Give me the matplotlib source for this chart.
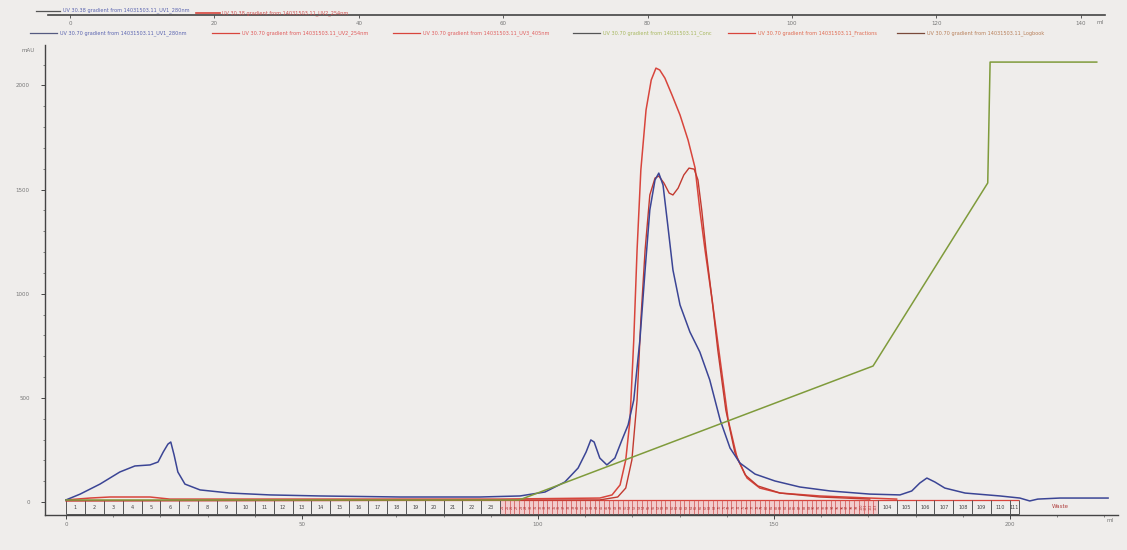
import matplotlib
matplotlib.use('Agg')
import matplotlib.pyplot as plt

# UV1 280 nm (blue)
uv1_ml = [0, 3.0, 7.2, 11.4, 14.6, 17.8, 19.5, 20.6, 21.6, 22.2, 22.9, 23.7, 25.2, 28.4, 34.7,
          43.2, 53.8, 70.8, 87.7, 96.2, 101.5, 105.7, 108.5, 110.2, 111.2, 111.9, 113.1, 114.6,
          116.3, 117.8, 119.1, 120.3, 121.6, 122.7, 123.7, 124.8, 125.6, 126.5, 127.5, 128.6,
          130.1, 132.2, 134.3, 136.4, 138.6, 140.7, 142.8, 146.0, 150.2, 155.5, 161.9, 170.3,
          176.7, 179.2, 180.9, 182.4, 184.1, 186.2, 190.5, 197.9, 202.1, 204.2, 205.9, 210.6, 220.8]
uv1_mau = [10, 38, 86, 144, 173, 178, 192, 240, 278, 288, 226, 144, 86, 58, 43,
           34, 29, 24, 24, 29, 48, 96, 163, 240, 298, 288, 211, 178,
           211, 298, 370, 490, 778, 1114, 1402, 1546, 1579, 1522, 1330, 1114,
           946, 816, 720, 586, 394, 259, 187, 134, 101, 72, 53, 38,
           34, 53, 91, 115, 96, 67, 43, 29, 19, 5, 14, 19, 19]

# UV2 (red, tall peak)
uv2_ml = [0, 5.1, 9.3, 17.8, 22.0, 49.6, 91.9, 113.1, 115.7, 117.4, 118.6, 119.5, 120.3, 121.0,
          121.8, 122.9, 124.0, 125.0, 125.8, 126.9, 128.4, 130.1, 131.8, 133.3, 134.3, 135.4,
          136.9, 138.6, 140.3, 142.2, 144.3, 147.0, 151.3, 159.7, 170.3, 176.0]
uv2_mau = [10, 19, 24, 24, 14, 14, 14, 19, 34, 82, 202, 394, 778, 1210,
           1594, 1882, 2026, 2083, 2074, 2035, 1954, 1858, 1738, 1603, 1402, 1210,
           970, 682, 394, 211, 115, 67, 43, 29, 19, 14]

# UV3 (red, double hump)
uv3_ml = [0, 113.1, 116.9, 118.6, 119.9, 121.0, 121.8, 122.7, 123.7, 124.8, 125.6, 126.7, 127.8,
          128.6, 129.7, 130.9, 132.0, 133.1, 133.9, 134.7, 135.6, 136.9, 138.1, 139.8, 141.7,
          143.9, 146.6, 151.3, 159.7, 170.3]
uv3_mau = [5, 10, 24, 67, 202, 490, 874, 1210, 1474, 1555, 1565, 1531, 1483,
           1474, 1507, 1570, 1603, 1598, 1546, 1402, 1210, 970, 730, 442, 240,
           130, 77, 43, 24, 14]

# Conc %B (green)
conc_ml = [0, 96.0, 171.0, 195.3, 195.8, 218.4]
conc_pct = [0, 0, 30.6, 72.4, 100, 100]

# fractions
frac_edges = list(range(0, 92, 4)) + list(range(92, 172)) + list(range(172, 201, 4)) + [202]
frac_labels = [str(i) for i in range(1, len(frac_edges))]

legend_texts = ['UV 30.70 gradient from 14031503.11_UV1_280nm',
                'UV 30.70 gradient from 14031503.11_UV2_254nm',
                'UV 30.70 gradient from 14031503.11_UV3_405nm',
                'UV 30.70 gradient from 14031503.11_Conc',
                'UV 30.70 gradient from 14031503.11_Fractions',
                'UV 30.70 gradient from 14031503.11_Logbook']
legend_line_colors = ['#555a80', '#d8453c', '#d8453c', '#555555', '#d8453c', '#7a4a3a']
legend_text_colors = ['#5a64b0', '#e05a5a', '#e06060', '#a8b860', '#e06a50', '#b8805a']

top_ticks = [0, 20, 40, 60, 80, 100, 120, 140]

bg = '#efedeb'
fig = plt.figure(figsize=(11.27, 5.5), dpi=100, facecolor=bg)
W, H = 1127, 550

ax = fig.add_axes([45 / W, 1 - 515 / H, (1118 - 45) / W, (515 - 45) / H], facecolor=bg)
ax.set_xlim(-4.45, 222.9)
ax.set_ylim(-62.4, 2194)

# fraction boxes
ax.axvspan(92, 172, ymin=(-58 + 62.4) / 2256.4, ymax=(10 + 62.4) / 2256.4, color='#f2cccc', lw=0)
ax.hlines(10, 0, 202, color='#d8453c', lw=0.9)
ax.hlines(-58, 0, 202, color='#555555', lw=0.7)
for i, e in enumerate(frac_edges):
    dense = 92 < e < 172
    ax.vlines(e, -58, 10, color='#d05050' if dense else '#555555', lw=0.5 if dense else 0.7)
for i in range(len(frac_edges) - 1):
    a, b = frac_edges[i], frac_edges[i + 1]
    mid = (a + b) / 2
    if b - a == 1:
        ax.text(mid, -24, frac_labels[i], fontsize=2.4, rotation=90, color='#b03030',
                ha='center', va='center')
    else:
        ax.text(mid, -24, frac_labels[i], fontsize=3.5, color='#444444', ha='center', va='center')
ax.text(210.6, -22, 'Waste', fontsize=4, color='#b04040', ha='center', va='center')

ax.plot(uv2_ml, uv2_mau, color='#d8453c', lw=1.1)
ax.plot(uv3_ml, uv3_mau, color='#c23a30', lw=1.0)
ax.plot(uv1_ml, uv1_mau, color='#3b4595', lw=1.1)

ax2 = ax.twinx()
ax2.set_ylim(-3.42, 103.9)
ax2.plot(conc_ml, conc_pct, color='#7f9b3b', lw=1.1)
ax2.set_yticks([])
for s in ax2.spines.values():
    s.set_visible(False)

for s in ['top', 'right']:
    ax.spines[s].set_visible(False)
for s in ['left', 'bottom']:
    ax.spines[s].set_color('#444444')
    ax.spines[s].set_linewidth(1.0)
ax.set_yticks([0, 500, 1000, 1500, 2000])
ax.set_yticks(range(0, 2200, 100), minor=True)
ax.set_xticks([0, 50, 100, 150, 200])
ax.set_xticks(range(0, 221, 10), minor=True)
ax.tick_params(which='major', length=3, width=0.7, color='#444444', labelsize=4,
               labelcolor='#777777')
ax.tick_params(axis='y', which='major', pad=8)
ax.tick_params(axis='x', which='major', pad=2)
ax.tick_params(which='minor', length=1.5, width=0.5, color='#555555')
fig.text(28 / W, 1 - 51 / H, 'mAU', fontsize=4, color='#777777', ha='center', va='center')
fig.text(1110 / W, 1 - 520 / H, 'ml', fontsize=4, color='#777777', ha='center', va='center')

# top header axis from overlaid run
axt = fig.add_axes([48 / W, 1 - 15 / H, (1105 - 48) / W, 0.0001], facecolor='none')
axt.set_xlim(-3.05, 143.35)
axt.set_xticks(top_ticks)
axt.set_yticks([])
for s in ['top', 'left', 'right']:
    axt.spines[s].set_visible(False)
axt.spines['bottom'].set_color('#444444')
axt.spines['bottom'].set_linewidth(1.2)
axt.tick_params(length=2, width=0.6, color='#444444', labelsize=4, labelcolor='#777777', pad=2)
fig.text(1100 / W, 1 - 23 / H, 'ml', fontsize=4, color='#777777', ha='center', va='center')
fig.add_artist(plt.Line2D([36 / W, 60 / W], [1 - 11 / H, 1 - 11 / H], color='#555555', lw=0.9))
fig.text(63 / W, 1 - 10 / H, 'UV 30.38 gradient from 14031503.11_UV1_280nm', fontsize=3.6,
         color='#5a64b0', ha='left', va='center')
fig.add_artist(plt.Line2D([196 / W, 220 / W], [1 - 13 / H, 1 - 13 / H], color='#d8453c', lw=1.2))
fig.text(222 / W, 1 - 13 / H, 'UV 30.38 gradient from 14031503.11_UV2_254nm', fontsize=3.6,
         color='#d05050', ha='left', va='center')

# legend row
leg_x = [30, 212, 393, 573, 728, 897]
for x0, t, lc, tc in zip(leg_x, legend_texts, legend_line_colors, legend_text_colors):
    fig.add_artist(plt.Line2D([x0 / W, (x0 + 27) / W], [1 - 33 / H, 1 - 33 / H], color=lc, lw=0.9))
    fig.text((x0 + 30) / W, 1 - 33 / H, t, fontsize=3.6, color=tc, ha='left', va='center')

plt.savefig('out.png', dpi=100, facecolor=bg)
